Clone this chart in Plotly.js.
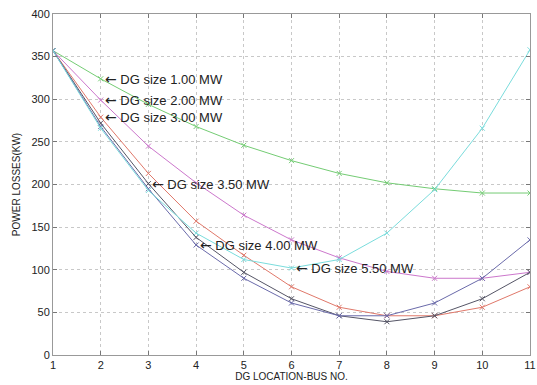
<!DOCTYPE html>
<html>
<head>
<meta charset="utf-8">
<script src="https://cdn.plot.ly/plotly-3.0.1.min.js"></script>
<style>html,body{margin:0;padding:0;background:#fff;}#chart{width:537px;height:385px;}</style>
</head>
<body>
<div id="chart"></div>
<script>
const buses = [1, 2, 3, 4, 5, 6, 7, 8, 9, 10, 11];
const dg100 = [357, 324, 294, 268, 246, 228, 213, 202, 195, 190, 190];
const dg200 = [357, 299, 245, 202, 164, 135, 114, 98, 90, 90, 97];
const dg300 = [357, 279, 213, 157, 117, 80, 56, 46, 46, 56, 80];
const dg350 = [357, 272, 201, 138, 97, 66, 46, 39, 46, 66, 97];
const dg400 = [357, 268, 195, 129, 90, 61, 46, 46, 61, 90, 135];
const dg550 = [357, 266, 193, 143, 112, 102, 112, 143, 194, 266, 358];
const labels = ["DG size 1.00 MW", "DG size 2.00 MW", "DG size 3.00 MW", "DG size 3.50 MW", "DG size 4.00 MW", "DG size 5.50 MW"];
const labelBus = [2, 2, 2, 3, 4, 6];

const series = [dg100, dg200, dg300, dg350, dg400, dg550];
const colors = ["#74cc74", "#cc77cc", "#e0786a", "#555566", "#6a6aaa", "#7adcdc"];

const traces = series.map((s, i) => ({
  x: buses, y: s, type: "scatter", mode: "lines+markers",
  line: {color: colors[i], width: 1},
  marker: {symbol: "x-thin", size: 5, line: {color: colors[i], width: 1}},
  showlegend: false, hoverinfo: "skip"
}));

const annotations = labels.map((t, i) => ({
  x: labelBus[i], y: series[i][labelBus[i] - 1], xref: "x", yref: "y",
  text: "<span style=\"font-family:DejaVu Sans;font-size:14px\">\u2190</span> " + t,
  showarrow: false, xanchor: "left", yanchor: "middle", xshift: 2,
  font: {family: "Liberation Sans, Arial, sans-serif", size: 13, color: "#222"}
}));

const layout = {
  width: 537, height: 385,
  margin: {l: 53, r: 7, t: 14, b: 30},
  paper_bgcolor: "#fff", plot_bgcolor: "#fff",
  font: {family: "Liberation Sans, Arial, sans-serif", color: "#222"},
  xaxis: {
    range: [1, 11], tickvals: buses, ticks: "inside", ticklen: 4, tickcolor: "#777",
    showline: true, linecolor: "#999", mirror: "ticks", linewidth: 1,
    showgrid: true, gridcolor: "#c8c8c8", griddash: "dot", gridwidth: 1,
    zeroline: false, tickfont: {size: 11}, ticklabelstandoff: 0,
    ticklabeloverflow: "allow",
    title: {text: "DG LOCATION-BUS NO.", font: {size: 10}, standoff: 2}
  },
  yaxis: {
    range: [0, 400], dtick: 50, ticks: "inside", ticklen: 4, tickcolor: "#777",
    showline: true, linecolor: "#999", mirror: "ticks", linewidth: 1,
    showgrid: true, gridcolor: "#c8c8c8", griddash: "dot", gridwidth: 1,
    zeroline: false, tickfont: {size: 11},
    title: {text: "POWER LOSSES(KW)", font: {size: 10}, standoff: 8}
  },
  annotations: annotations
};

Plotly.newPlot("chart", traces, layout, {staticPlot: true, displayModeBar: false});
</script>
</body>
</html>
